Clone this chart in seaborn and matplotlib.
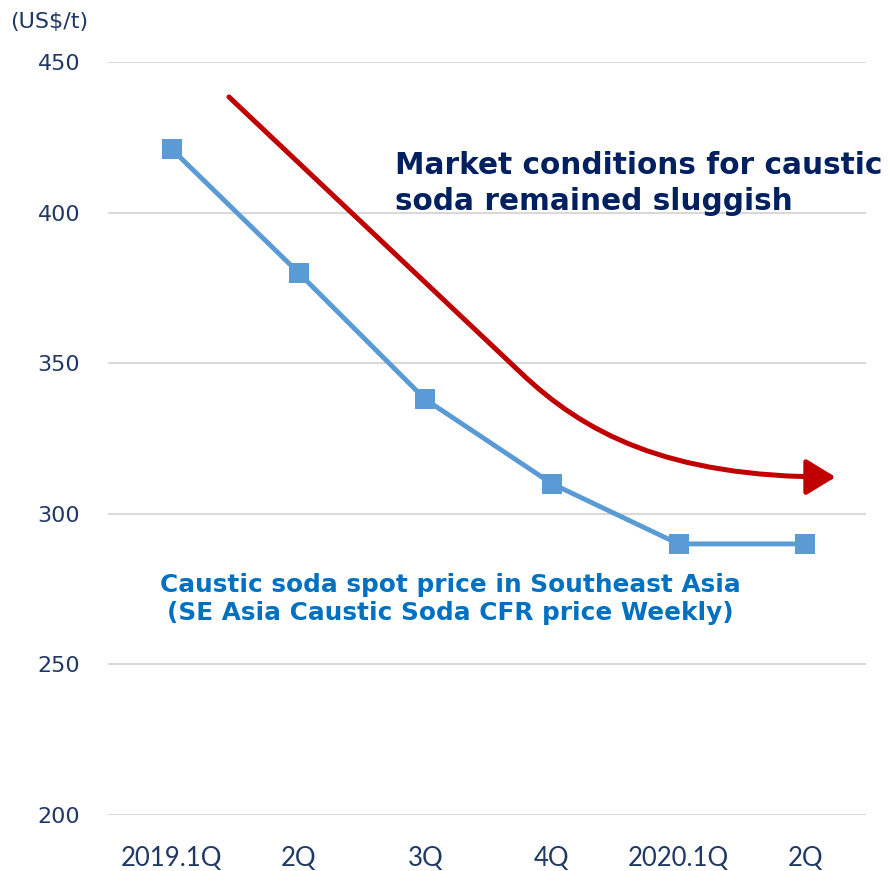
import matplotlib
matplotlib.use("Agg")
import matplotlib.pyplot as plt
from matplotlib.patches import FancyArrowPatch
from matplotlib.path import Path
import seaborn as sns
import pandas as pd

quarters = ["2019.1Q", "2Q", "3Q", "4Q", "2020.1Q", "2Q "]
tick_labels = ["2019.1Q", "2Q", "3Q", "4Q", "2020.1Q", "2Q"]
price = [421, 380, 338, 310, 290, 290]
y_ticks = [200, 250, 300, 350, 400, 450]

df = pd.DataFrame({"quarter": quarters, "price": price})

sns.set_theme(style="white")
plt.rcParams["font.family"] = ["DejaVu Sans"]

navy = "#1F3864"
fig = plt.figure(figsize=(8.89, 8.71), dpi=100)
ax = fig.add_axes([108 / 889, 1 - 815 / 871, (866 - 108) / 889, (815 - 62) / 871])

ax.set_ylim(200, 450)
ax.set_xlim(-0.505, 5.48)
ax.set_yticks(y_ticks)
for y in y_ticks:
    ax.axhline(y, color="#D9D9D9", lw=1.5, zorder=0)

sns.lineplot(data=df, x="quarter", y="price", ax=ax, color="#5B9BD5",
             lw=3.5, marker="s", markersize=14.5, markeredgewidth=0,
             sort=False, zorder=3)

ax.set_xticks(range(len(tick_labels)))
ax.set_xticklabels(tick_labels, fontsize=18.5, color=navy,
                   family=["Lato", "DejaVu Sans"])
ax.tick_params(axis="x", length=0, pad=22)
ax.tick_params(axis="y", length=0, pad=20, labelsize=16, labelcolor=navy)
ax.set_xlabel("")
ax.set_ylabel("")
for s in ax.spines.values():
    s.set_visible(False)

# downward trend arrow
verts = [(0.45, 438.4), (2.75, 347.0), (3.25, 327.0), (3.9, 312.2), (5.24, 312.2)]
codes = [Path.MOVETO, Path.LINETO, Path.CURVE4, Path.CURVE4, Path.CURVE4]
arrow = FancyArrowPatch(path=Path(verts, codes),
                        arrowstyle="-|>,head_length=0.9,head_width=0.55",
                        mutation_scale=20, color="#C00000", lw=3.6,
                        shrinkA=0, shrinkB=0, zorder=4)
ax.add_patch(arrow)

ax.text(1.76, 409.8, "Market conditions for caustic\nsoda remained sluggish",
        fontsize=21.3, fontweight="bold", color="#002060", ha="left", va="center",
        linespacing=1.3)
ax.text(2.20, 271.7, "Caustic soda spot price in Southeast Asia\n(SE Asia Caustic Soda CFR price Weekly)",
        fontsize=17.8, fontweight="bold", color="#0070C0", ha="center", va="center",
        linespacing=1.25)

fig.text(0.055, 0.975, "(US$/t)", fontsize=16, color=navy, ha="center", va="center")

fig.savefig("out.png", dpi=100)
